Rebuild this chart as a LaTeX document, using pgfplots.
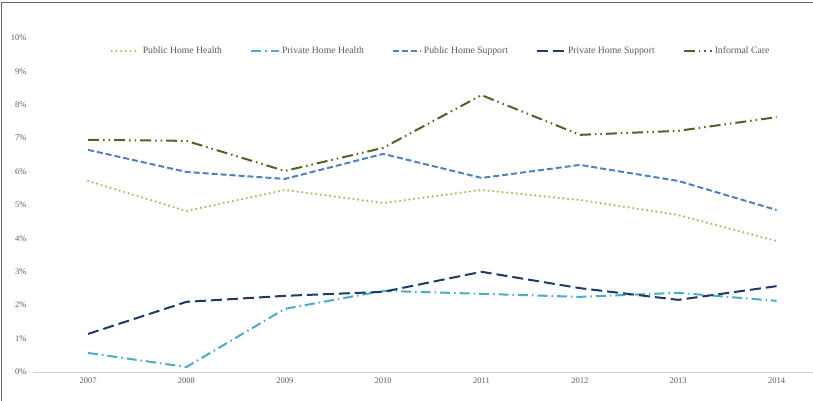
\documentclass[border=0pt]{standalone}
\usepackage{fontspec}
\setmainfont{Liberation Serif}
\usepackage{pgfplots}
\pgfplotsset{compat=1.18}
\definecolor{phh}{RGB}{176,186,104}
\definecolor{prhh}{RGB}{75,172,198}
\definecolor{phs}{RGB}{79,129,189}
\definecolor{prhs}{RGB}{31,56,100}
\definecolor{inf}{RGB}{84,96,40}
\definecolor{tickgray}{RGB}{89,89,89}
\begin{document}
\begin{tikzpicture}
\path[use as bounding box] (0,0) rectangle (813pt,401pt);
\draw[gray!80!black, line width=0.8pt] (1pt,0) -- (1pt,399pt) -- (813pt,399pt);
\begin{axis}[
  at={(33pt,29pt)}, anchor=south west,
  scale only axis, width=780pt, height=334pt,
  xmin=2006.44, xmax=2014.37, ymin=0, ymax=10,
  axis x line*=bottom,
  axis y line=left,
  y axis line style={draw=none},
  x axis line style={draw=gray!40, line width=0.8pt, -},
  major tick length=0pt,
  xtick={2007,...,2014},
  xticklabels={2007,2008,2009,2010,2011,2012,2013,2014},
  ytick={0,...,10},
  yticklabels={0\%,1\%,2\%,3\%,4\%,5\%,6\%,7\%,8\%,9\%,10\%},
  tick label style={font=\fontsize{8.5}{9}\selectfont, text=tickgray},
  yticklabel style={xshift=-3pt},
  xticklabel style={yshift=-2pt},
  legend columns=5,
  legend style={at={(rel axis cs:0.523,0.961)}, anchor=center, draw=none, fill=none,
    font=\fontsize{9.7}{11}\selectfont, text=tickgray,
    /tikz/every even column/.append style={column sep=26pt}},
  legend image code/.code={\draw[#1] (0pt,0pt) -- (28pt,0pt);},
  every axis plot/.append style={line width=2pt},
]
\addplot[phh, line width=2.4pt, line cap=round, dash pattern=on 0.1pt off 4.6pt] coordinates {
(2007,5.72) (2008,4.82) (2009,5.45) (2010,5.06) (2011,5.45) (2012,5.15) (2013,4.70) (2014,3.92)};
\addlegendentry{Public Home Health}
\addplot[prhh, dash pattern=on 10pt off 4pt on 1.5pt off 4pt] coordinates {
(2007,0.57) (2008,0.15) (2009,1.89) (2010,2.43) (2011,2.34) (2012,2.25) (2013,2.37) (2014,2.13)};
\addlegendentry{Private Home Health}
\addplot[phs, dash pattern=on 6pt off 3pt] coordinates {
(2007,6.65) (2008,5.99) (2009,5.78) (2010,6.53) (2011,5.81) (2012,6.20) (2013,5.72) (2014,4.85)};
\addlegendentry{Public Home Support}
\addplot[prhs, dash pattern=on 11pt off 5pt] coordinates {
(2007,1.14) (2008,2.10) (2009,2.28) (2010,2.40) (2011,3.00) (2012,2.51) (2013,2.16) (2014,2.57)};
\addlegendentry{Private Home Support}
\addplot[inf, dash pattern=on 11pt off 4pt on 1.5pt off 4pt on 1.5pt off 4pt] coordinates {
(2007,6.95) (2008,6.92) (2009,6.02) (2010,6.71) (2011,8.29) (2012,7.10) (2013,7.22) (2014,7.63)};
\addlegendentry{Informal Care}
\end{axis}
\end{tikzpicture}
\end{document}
